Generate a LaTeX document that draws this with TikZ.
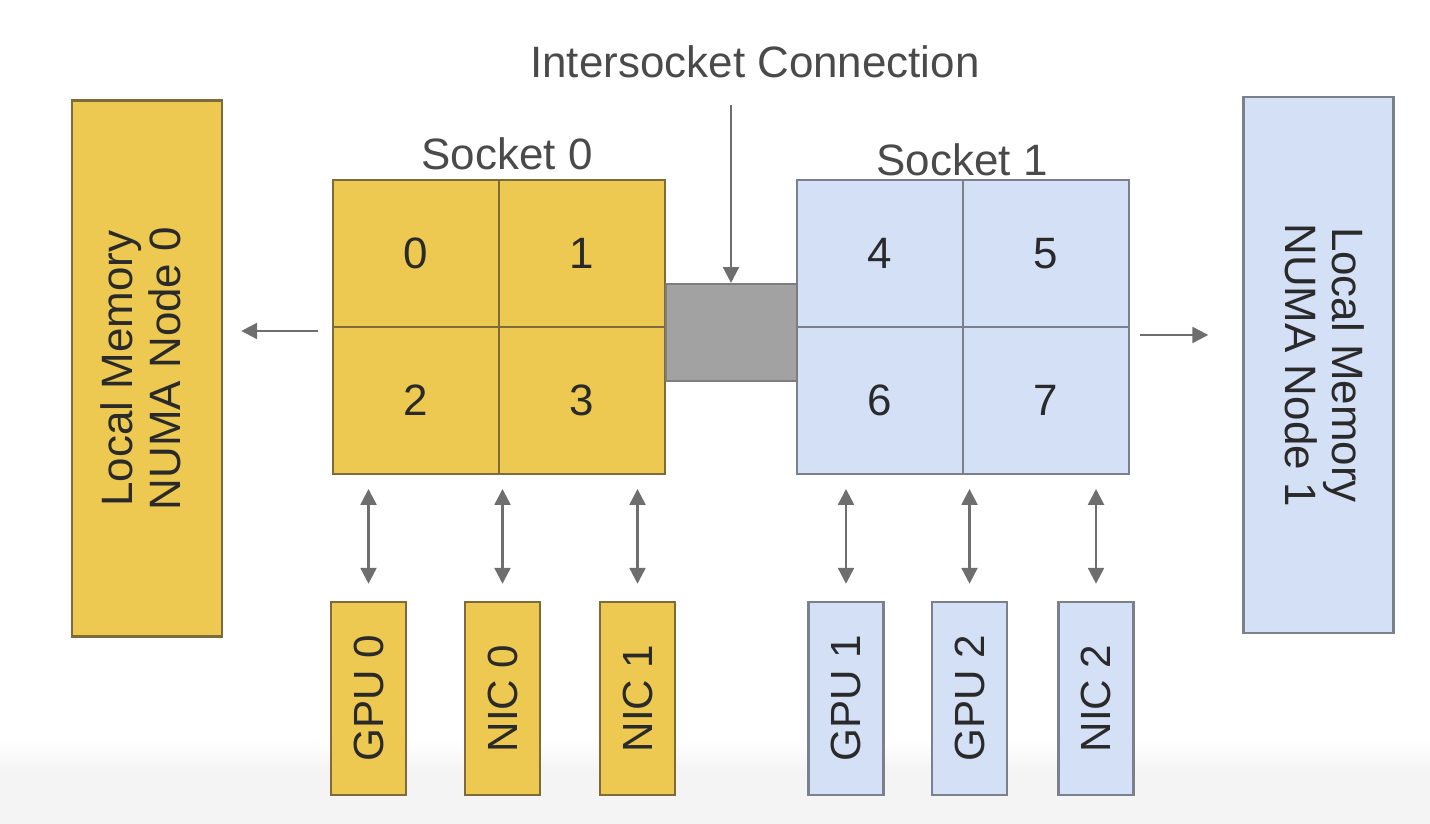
\documentclass[tikz,border=0pt]{standalone}
\usepackage{fontspec}
\setsansfont{Liberation Sans}
\usepackage{xcolor}
\definecolor{socketyellow}{HTML}{EDC952}
\definecolor{yellowline}{HTML}{7D6B3A}
\definecolor{socketblue}{HTML}{D4E0F6}
\definecolor{blueline}{HTML}{7A808C}
\definecolor{linkgray}{HTML}{6E6E6E}
\definecolor{busgray}{HTML}{A2A2A2}
\definecolor{labelgray}{HTML}{4A4A4A}
\definecolor{inkdark}{HTML}{2A2A2A}
\usepackage{tikz}
\usetikzlibrary{arrows.meta, positioning, calc}

\begin{document}
\begin{tikzpicture}[every node/.style={font=\sffamily}]
\tikzstyle{mem}=[rectangle, minimum width=1.5cm, minimum height=5.36cm, line width=0.7pt,
  inner sep=0pt, align=center, text=inkdark, font=\fontsize{12.5}{13.5}\selectfont\sffamily]
\tikzstyle{core}=[rectangle, minimum width=1.66cm, minimum height=1.47cm, line width=0.7pt,
  outer sep=0pt, text=inkdark, font=\fontsize{12.5}{14}\selectfont\sffamily]
\tikzstyle{device}=[rectangle, minimum width=0.75cm, minimum height=1.93cm, line width=0.7pt,
  inner sep=0pt, text=inkdark, font=\fontsize{12}{14}\selectfont\sffamily]
\tikzstyle{yellowpart}=[fill=socketyellow, draw=yellowline]
\tikzstyle{bluepart}=[fill=socketblue, draw=blueline]
\tikzstyle{link}=[draw=linkgray, line width=0.7pt, -{Triangle[length=4.5pt,width=4.5pt]}]
\tikzstyle{dlink}=[draw=linkgray, line width=0.7pt,
  {Triangle[length=4.5pt,width=4.5pt]}-{Triangle[length=4.5pt,width=4.5pt]}]
\tikzstyle{caption}=[text=labelgray, font=\fontsize{12.5}{14}\selectfont\sffamily]

\fill[white] (0,0) rectangle (14.3,8.24);
\fill[gray!9] (0,0) rectangle (14.3,0.52);
\shade[top color=white, bottom color=gray!9] (0,0.52) rectangle (14.3,0.85);
\useasboundingbox (0,0) rectangle (14.3,8.24);

\node[mem, yellowpart] (mem0) at (1.47,4.555)
  {\rotatebox{90}{\begin{tabular}{@{}c@{}}Local Memory\\NUMA Node 0\end{tabular}}};
\node[mem, bluepart] (mem1) at (13.185,4.59)
  {\rotatebox{-90}{\begin{tabular}{@{}c@{}}Local Memory\\NUMA Node 1\end{tabular}}};

\node[core, yellowpart] (c0) at (4.16,5.705) {0};
\node[core, yellowpart, right=0pt of c0] (c1) {1};
\node[core, yellowpart, below=0pt of c0] (c2) {2};
\node[core, yellowpart, below=0pt of c1] (c3) {3};

\node[core, bluepart] (c4) at (8.80,5.705) {4};
\node[core, bluepart, right=0pt of c4] (c5) {5};
\node[core, bluepart, below=0pt of c4] (c6) {6};
\node[core, bluepart, below=0pt of c5] (c7) {7};

\node[rectangle, fill=busgray, draw=linkgray!90, line width=0.6pt, minimum width=1.31cm,
  minimum height=0.97cm] (bus) at (7.315,4.915) {};

\node[caption] (sock0) at (5.07,6.70) {Socket 0};
\node[caption] (sock1) at (9.62,6.64) {Socket 1};
\node[caption] (isc) at (7.55,7.62) {Intersocket Connection};
\coordinate (isctop) at (7.31,7.19);
\coordinate (tap0) at ($(c2.north west)+(0,-0.04)$);
\coordinate (tap1) at ($(c7.north east)+(0,-0.08)$);

\node[device, yellowpart] (gpu0) at (3.685,1.255) {\rotatebox{90}{GPU 0}};
\node[device, yellowpart] (nic0) at (5.025,1.255) {\rotatebox{90}{NIC 0}};
\node[device, yellowpart] (nic1) at (6.375,1.255) {\rotatebox{90}{NIC 1}};
\node[device, bluepart] (gpu1) at (8.46,1.255) {\rotatebox{90}{GPU 1}};
\node[device, bluepart] (gpu2) at (9.695,1.255) {\rotatebox{90}{GPU 2}};
\node[device, bluepart] (nic2) at (10.96,1.255) {\rotatebox{90}{NIC 2}};

\draw[link] (isctop) -- (isctop |- bus.north);
\draw[link, shorten <=0.15cm, shorten >=0.18cm] (tap0) -- (tap0 -| mem0.east);
\draw[link, shorten <=0.11cm, shorten >=0.34cm] (tap1) -- (tap1 -| mem1.west);

\foreach \dev in {gpu0, nic0, nic1}
  \draw[dlink, shorten <=0.15cm, shorten >=0.17cm] (\dev.north |- c2.south) -- (\dev.north);
\foreach \dev in {gpu1, gpu2, nic2}
  \draw[dlink, shorten <=0.15cm, shorten >=0.17cm] (\dev.north |- c6.south) -- (\dev.north);
\end{tikzpicture}
\end{document}
